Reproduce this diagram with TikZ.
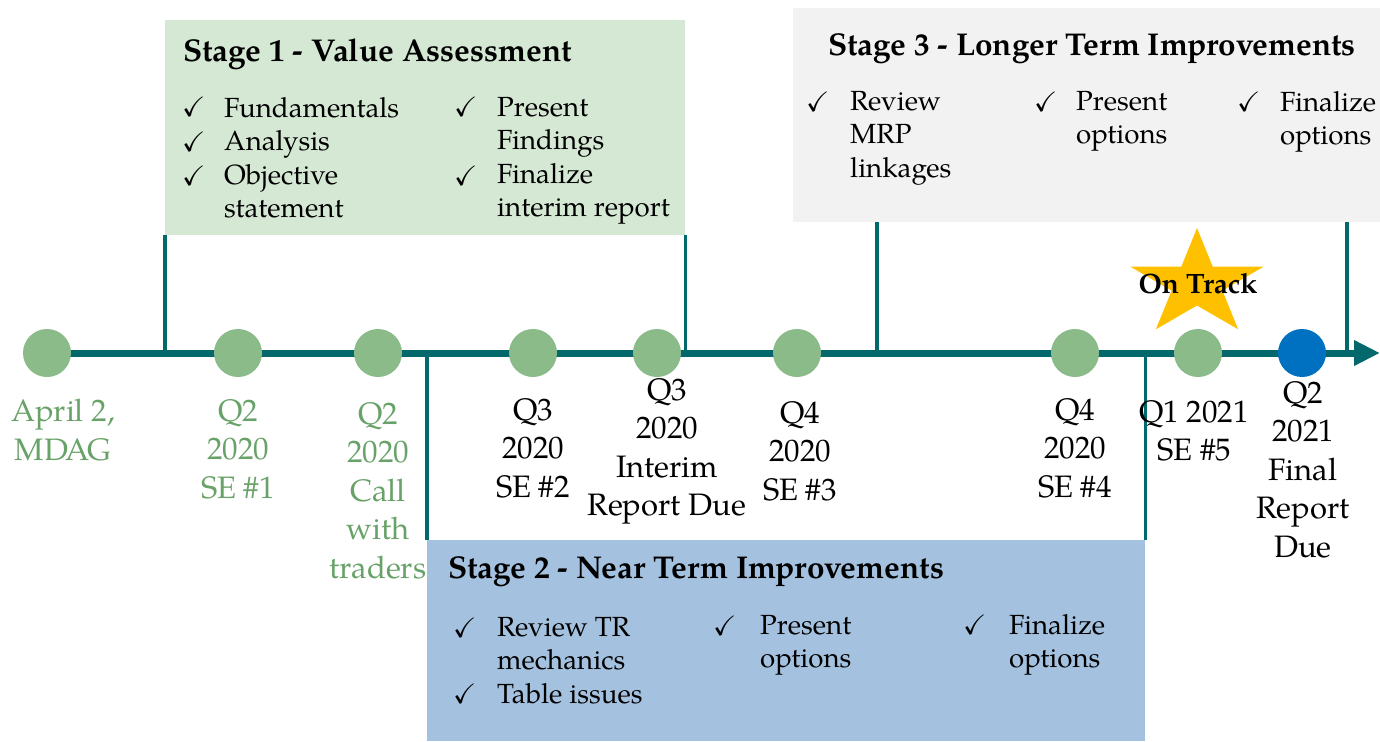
\documentclass[tikz,border=0pt]{standalone}
\usepackage{amssymb}
\usepackage{fontspec}
\setmainfont{TeX Gyre Pagella}
\usetikzlibrary{arrows.meta,positioning}

\definecolor{tlcol}{RGB}{2,104,107}
\definecolor{evgreen}{RGB}{138,187,137}
\definecolor{evblue}{RGB}{0,112,192}
\definecolor{lblgreen}{RGB}{104,162,104}
\definecolor{stonefill}{RGB}{213,232,212}
\definecolor{sttwofill}{RGB}{164,194,224}
\definecolor{stthreefill}{RGB}{242,242,242}
\definecolor{stargold}{RGB}{255,192,0}

\tikzset{
  event/.style={circle, minimum size=48pt, inner sep=0pt, fill=evgreen},
  datelbl/.style={align=center, anchor=north, inner sep=0pt, font=\fontsize{31}{38.5}\selectfont},
  stagebox/.style={anchor=north west, inner sep=0pt},
  stagetitle/.style={anchor=base west, inner sep=0pt, font=\fontsize{31.5}{36}\selectfont\bfseries},
  chk/.style={anchor=base west, inner sep=0pt, font=\fontsize{28}{34}\selectfont},
  item/.style={anchor=north west, align=left, inner sep=0pt, font=\fontsize{27.7}{33.5}\selectfont},
  vline/.style={draw=tlcol, line width=3.2pt},
}

\begin{document}
\begin{tikzpicture}[x=1pt,y=-1pt]
\useasboundingbox (0,0) rectangle (1380,741);

% stage boxes
\node[stagebox, fill=stonefill, minimum width=520pt, minimum height=215pt] (s1) at (165,20) {};
\node[stagebox, fill=sttwofill, minimum width=718pt, minimum height=201pt] (s2) at (427,540) {};
\node[stagebox, fill=stthreefill, minimum width=587pt, minimum height=214pt] (s3) at (793,8) {};

% timeline
\coordinate (tls) at (47,353);
\coordinate (tle) at (1380,353);
\draw[draw=tlcol, line width=7pt, -{Triangle[length=26pt,width=24pt]}] (tls) -- (tle);

% links from the boxes down/up to the timeline
\coordinate (s3l) at (877,222);
\coordinate (s3r) at (1347,222);
\draw[vline] (s1.south west) -- (s1.south west |- tls);
\draw[vline] (s1.south east) -- (s1.south east |- tls);
\draw[vline] (s2.north west) -- (s2.north west |- tls);
\draw[vline] (s2.north east) -- (s2.north east |- tls);
\draw[vline] (s3l) -- (s3l |- tls);
\draw[vline] (s3r) -- (s3r |- tls);

% star
\fill[stargold, shift={(1197,284)}] (-90:70 and 56)
  \foreach \a in {0,...,4} { -- (-90+72*\a:70 and 56) -- (-54+72*\a:26.7 and 21.5) } -- cycle;
\node[inner sep=0pt, font=\fontsize{28}{32}\selectfont\bfseries] (ontrack) at (1198,284) {On Track};

% events
\node[event] (ev1) at (47,353) {};
\node[event] (ev2) at (238,353) {};
\node[event] (ev3) at (378,353) {};
\node[event] (ev4) at (533,353) {};
\node[event] (ev5) at (657,353) {};
\node[event] (ev6) at (797,353) {};
\node[event] (ev7) at (1075,353) {};
\node[event] (ev8) at (1198,353) {};
\node[event, fill=evblue] (ev9) at (1302,353) {};

% date labels
\node[datelbl, text=lblgreen] (lbl1) at (63,399) {April 2,\\MDAG};
\node[datelbl, text=lblgreen] (lbl2) at (238,399) {Q2\\2020\\SE \#1};
\node[datelbl, text=lblgreen] (lbl3) at (378,402) {Q2\\2020\\Call\\with\\traders};
\node[datelbl] (lbl4) at (533,398) {Q3\\2020\\SE \#2};
\node[datelbl] (lbl5) at (667,378) {Q3\\2020\\Interim\\Report Due};
\node[datelbl] (lbl6) at (800,401) {Q4\\2020\\SE \#3};
\node[datelbl] (lbl7) at (1075,398) {Q4\\2020\\SE \#4};
\node[datelbl] (lbl8) at (1194,400) {Q1 2021\\SE \#5};
\node[datelbl] (lbl9) at (1303,381) {Q2\\2021\\Final\\Report\\Due};

% stage 1
\node[stagetitle] (t1) at (183,62) {Stage 1 - Value Assessment};
\node[chk] (c1a) at (182,117) {$\checkmark$};
\node[chk] (c1b) at (182,151) {$\checkmark$};
\node[chk] (c1c) at (182,185) {$\checkmark$};
\node[item] (i1a) at (224,97) {Fundamentals\\Analysis\\Objective\\statement};
\node[chk] (c1d) at (454,117) {$\checkmark$};
\node[chk] (c1e) at (454,185) {$\checkmark$};
\node[item] (i1b) at (497,97) {Present\\Findings\\Finalize\\interim report};

% stage 2
\node[stagetitle] (t2) at (448,578) {Stage 2 - Near Term Improvements};
\node[chk] (c2a) at (453,637) {$\checkmark$};
\node[chk] (c2b) at (453,703) {$\checkmark$};
\node[item] (i2a) at (497,617) {Review TR\\mechanics\\Table issues};
\node[chk] (c2c) at (713,635) {$\checkmark$};
\node[item] (i2b) at (760,615) {Present\\options};
\node[chk] (c2d) at (963,634) {$\checkmark$};
\node[item] (i2c) at (1009,614) {Finalize\\options};

% stage 3
\node[stagetitle] (t3) at (828,56) {Stage 3 - Longer Term Improvements};
\node[chk] (c3a) at (806,111) {$\checkmark$};
\node[item] (i3a) at (850,91) {Review\\MRP\\linkages};
\node[chk] (c3b) at (1034,111) {$\checkmark$};
\node[item] (i3b) at (1076,91) {Present\\options};
\node[chk] (c3c) at (1237,111) {$\checkmark$};
\node[item] (i3c) at (1280,91) {Finalize\\options};

\end{tikzpicture}
\end{document}
